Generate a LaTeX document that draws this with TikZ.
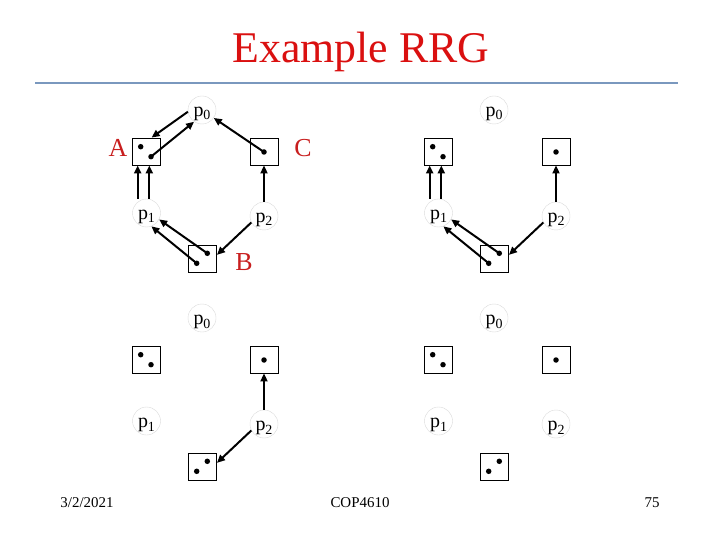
\documentclass[tikz,border=0pt]{standalone}
\usepackage{fontspec}
\setmainfont{Liberation Serif}
\usetikzlibrary{arrows.meta}
\definecolor{titlered}{RGB}{218,16,16}
\definecolor{labred}{RGB}{200,30,30}
\definecolor{rulecol}{RGB}{122,152,190}
\newcommand\pname[1]{p\raisebox{-3.5bp}{\fontsize{14}{14}\selectfont #1}}
\begin{document}
\begin{tikzpicture}[x=1bp,y=-1bp,
  pnode/.style={circle, draw=gray!30, line width=0.4pt, minimum size=28bp, inner sep=0pt,
    text height=13bp, text depth=0bp, font=\fontsize{20}{20}\selectfont},
  boxnode/.style={draw, line width=0.9pt, minimum width=28bp, minimum height=27bp, inner sep=0pt},
  dotnode/.style={circle, fill, inner sep=0pt, minimum size=5.5bp},
  arr/.style={-{Triangle[length=8bp,width=7bp]}, line width=2pt},
  lab/.style={text=labred, font=\fontsize{26}{26}\selectfont, inner sep=0pt},
  foot/.style={font=\fontsize{15}{15}\selectfont, inner sep=0pt}]
\useasboundingbox (0,0) rectangle (720,540);
% title and rule
\node[text=titlered, font=\fontsize{44}{44}\selectfont, inner sep=0pt] (title) at (361,52) {Example RRG};
\coordinate (rl) at (35,83);
\coordinate (rr) at (678,83);
\draw[rulecol, line width=2pt] (rl) -- (rr);
% four panels
\foreach \s/\dx/\dy in {a/0/0, b/292/0, c/0/208, d/292/208}{
  \begin{scope}[shift={(\dx,\dy)}]
    \node[pnode] (p0\s) at (202,110) {\pname{0}};
    \node[pnode] (p1\s) at (146.5,213) {\pname{1}};
    \node[pnode] (p2\s) at (264,216) {\pname{2}};
    \node[boxnode] (boxA\s) at (146.5,151.5) {};
    \node[boxnode] (boxC\s) at (264,151.5) {};
    \node[boxnode] (boxB\s) at (202.5,259) {};
    \node[dotnode] (dA1\s) at (140.7,146.7) {};
    \node[dotnode] (dA2\s) at (151,156.7) {};
    \node[dotnode] (dC\s) at (264,152) {};
    \node[dotnode] (dB1\s) at (207.3,253.3) {};
    \node[dotnode] (dB2\s) at (196.7,263.3) {};
  \end{scope}
}
% labels
\node[lab] (labA) at (118,148) {A};
\node[lab] (labC) at (303,148) {C};
\node[lab] (labB) at (244,262) {B};
% panel a arrows
\draw[arr] (p0a.187) -- (boxAa.70);
\draw[arr] (dA2a.center) -- (p0a.236);
\draw[arr] (dCa.center) -- (p0a);
\draw[arr] ([xshift=-8.8bp]p1a.north) -- ([xshift=-8.8bp]boxAa.south);
\draw[arr] ([xshift=2.8bp]p1a.north) -- ([xshift=2.8bp]boxAa.south);
\draw[arr] (p2a) -- (boxCa);
\draw[arr] (dB1a.center) -- (p1a.333);
\draw[arr] (dB2a.center) -- (p1a.290);
\draw[arr] (p2a.207) -- (boxBa.16);
% panel b arrows
\draw[arr] ([xshift=-8.8bp]p1b.north) -- ([xshift=-8.8bp]boxAb.south);
\draw[arr] ([xshift=2.8bp]p1b.north) -- ([xshift=2.8bp]boxAb.south);
\draw[arr] (p2b) -- (boxCb);
\draw[arr] (dB1b.center) -- (p1b.333);
\draw[arr] (dB2b.center) -- (p1b.290);
\draw[arr] (p2b.207) -- (boxBb.16);
% panel c arrows
\draw[arr] (p2c) -- (boxCc);
\draw[arr] (p2c.207) -- (boxBc.16);
% footer
\node[foot] (date) at (87,503) {3/2/2021};
\node[foot] (course) at (360,503) {COP4610};
\node[foot] (page) at (652,503) {75};
\end{tikzpicture}
\end{document}
